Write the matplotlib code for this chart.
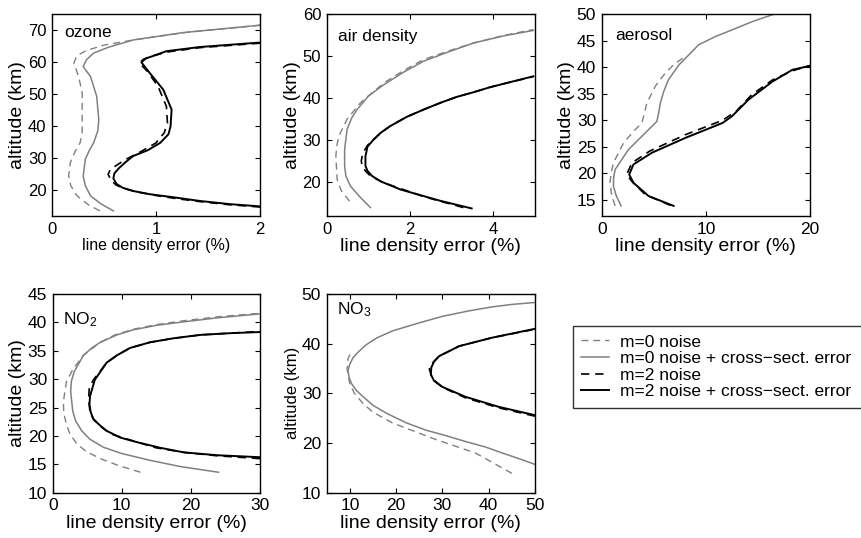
import matplotlib
matplotlib.use("Agg")
import matplotlib.pyplot as plt

plt.rcParams['font.family'] = ['Liberation Sans', 'DejaVu Sans']
plt.rcParams['mathtext.default'] = 'regular'

# ---------------- data (altitude in km, error in %) ----------------
# ozone
oz_m0n_x = [0.46, 0.35, 0.24, 0.18, 0.16, 0.176, 0.22, 0.27, 0.29, 0.29, 0.29, 0.256, 0.21, 0.24, 0.33, 0.50, 0.80, 1.30, 2.0]
oz_m0n_y = [13.6, 15.5, 18.3, 21.5, 24.5, 28.6, 32.0, 34.8, 38.0, 42.0, 50.4, 55.5, 59.7, 62.0, 63.6, 65.3, 67.0, 69.3, 71.5]
oz_m0e_x = [0.59, 0.47, 0.37, 0.32, 0.30, 0.32, 0.36, 0.40, 0.44, 0.45, 0.43, 0.37, 0.30, 0.33, 0.40, 0.54, 0.78, 1.26, 2.0]
oz_m0e_y = [13.6, 15.8, 18.3, 21.5, 24.5, 29.7, 32.5, 34.8, 38.5, 42.0, 49.3, 55.5, 58.6, 60.7, 62.8, 64.6, 66.9, 69.2, 71.5]
oz_m2n_x = [2.0, 1.71, 1.42, 1.2, 1.0, 0.82, 0.70, 0.62, 0.57, 0.54, 0.56, 0.62, 0.70, 0.85, 1.0, 1.08, 1.11, 1.10, 1.02, 0.92, 0.84, 0.88, 0.96, 1.12, 1.42, 2.0]
oz_m2n_y = [14.8, 15.5, 16.5, 17.4, 18.4, 19.5, 20.5, 21.6, 23.0, 25.0, 26.5, 27.8, 29.5, 32.0, 34.8, 38.0, 41.0, 46.2, 52.4, 57.0, 59.7, 60.9, 61.9, 63.2, 64.5, 65.9]
oz_m2e_x = [2.0, 1.71, 1.42, 1.2, 0.94, 0.78, 0.68, 0.62, 0.59, 0.60, 0.64, 0.70, 0.78, 0.92, 1.04, 1.12, 1.14, 1.15, 1.07, 0.94, 0.86, 0.90, 0.98, 1.10, 1.42, 2.0]
oz_m2e_y = [15.0, 15.7, 16.7, 17.7, 18.8, 19.8, 20.8, 22.0, 23.7, 25.3, 26.8, 28.6, 30.7, 32.5, 34.8, 37.5, 40.0, 45.2, 51.4, 56.6, 59.9, 61.1, 62.0, 63.4, 64.7, 66.1]

# air density
ad_m0n_x = [0.55, 0.35, 0.25, 0.22, 0.24, 0.29, 0.49, 0.81, 1.37, 1.85, 2.33, 2.95, 3.52, 4.25, 4.96]
ad_m0n_y = [15.5, 18.0, 20.7, 26.2, 28.5, 31.0, 35.0, 38.9, 43.6, 46.6, 49.2, 51.3, 53.1, 54.9, 56.3]
ad_m0e_x = [1.05, 0.80, 0.57, 0.46, 0.43, 0.43, 0.49, 0.60, 0.73, 1.0, 1.37, 1.85, 2.33, 2.95, 3.52, 4.25, 4.96]
ad_m0e_y = [14.0, 16.5, 19.1, 21.5, 23.9, 27.8, 32.6, 35.3, 37.3, 40.5, 43.2, 46.2, 48.8, 51.1, 53.1, 54.8, 56.1]
ad_m2n_x = [3.28, 2.33, 1.37, 1.05, 0.93, 0.85, 0.83, 0.87, 0.98, 1.13, 1.30, 1.53, 1.93, 2.33, 2.73, 3.12, 3.52, 3.92, 4.4, 4.96]
ad_m2n_y = [14.0, 16.6, 19.9, 21.5, 22.7, 24.0, 25.1, 27.0, 28.8, 30.2, 31.8, 33.4, 35.6, 37.3, 38.9, 40.3, 41.4, 42.6, 43.8, 45.1]
ad_m2e_x = [3.48, 2.73, 1.77, 1.30, 1.09, 0.98, 0.93, 0.93, 0.98, 1.13, 1.30, 1.53, 1.93, 2.33, 2.73, 3.12, 3.52, 3.92, 4.4, 4.96]
ad_m2e_y = [13.8, 15.6, 18.3, 20.2, 21.5, 22.7, 23.9, 26.2, 28.5, 30.2, 31.8, 33.4, 35.6, 37.3, 38.9, 40.3, 41.4, 42.6, 43.8, 45.2]

# aerosol
ae_m0n_x = [1.29, 0.95, 0.80, 0.90, 1.13, 2.1, 3.1, 3.86, 4.34, 5.14, 6.11, 7.07, 8.04]
ae_m0n_y = [13.9, 16.0, 18.25, 20.0, 22.0, 25.75, 28.0, 29.5, 33.25, 36.4, 38.9, 40.75, 42.0]
ae_m0e_x = [1.86, 1.40, 1.13, 1.15, 1.29, 2.57, 4.5, 5.3, 5.47, 5.63, 5.95, 6.4, 7.4, 8.36, 9.3, 10.9, 12.5, 14.5, 16.6]
ae_m0e_y = [13.9, 15.8, 17.6, 19.3, 20.75, 24.5, 28.25, 29.8, 31.4, 33.25, 35.4, 37.6, 40.4, 42.3, 44.2, 45.75, 47.0, 48.6, 50.0]
ae_m2n_x = [6.6, 4.2, 2.9, 2.4, 2.9, 4.6, 8.04, 11.6, 12.9, 14.4, 16.4, 18.3, 20.0]
ae_m2n_y = [14.0, 16.0, 18.5, 19.8, 22.0, 24.2, 27.3, 30.0, 31.7, 34.8, 37.6, 39.3, 40.3]
ae_m2e_x = [6.91, 4.5, 3.05, 2.64, 3.05, 4.82, 8.04, 11.6, 12.5, 14.1, 16.4, 18.3, 20.0]
ae_m2e_y = [13.9, 15.75, 18.25, 19.8, 21.7, 23.9, 26.7, 29.5, 30.75, 33.9, 37.3, 39.5, 40.25]

# NO2
n2_m0n_x = [12.7, 9.5, 6.9, 4.8, 3.5, 2.5, 2.0, 1.6, 1.55, 2.0, 3.0, 4.45, 6.9, 9.0, 11.7, 15.0, 19.0, 24.0, 30.0]
n2_m0n_y = [13.6, 14.8, 16.0, 17.3, 18.6, 20.3, 22.0, 24.0, 26.1, 29.6, 31.9, 34.2, 36.5, 37.8, 38.8, 39.6, 40.3, 41.0, 41.6]
n2_m0e_x = [24.0, 18.5, 14.1, 10.0, 7.35, 5.4, 4.2, 3.3, 2.9, 2.6, 2.7, 3.1, 4.45, 5.66, 6.9, 9.3, 11.7, 15.1, 19.0, 23.8, 30.0]
n2_m0e_y = [13.6, 14.6, 15.7, 16.9, 18.0, 19.4, 20.9, 22.7, 24.4, 27.8, 29.6, 31.3, 34.2, 35.5, 36.5, 37.8, 38.7, 39.5, 40.1, 40.8, 41.5]
n2_m2n_x = [30.0, 23.8, 19.0, 15.0, 11.7, 8.5, 7.1, 5.9, 5.4, 5.2, 5.3, 5.9, 6.8, 7.8, 9.3, 11.2, 14.1, 17.5, 21.4, 25.7, 30.0]
n2_m2n_y = [16.0, 16.5, 17.1, 17.9, 19.1, 20.3, 21.5, 23.0, 24.1, 26.7, 28.5, 29.9, 31.3, 32.9, 34.2, 35.5, 36.5, 37.2, 37.8, 38.1, 38.4]
n2_m2e_x = [30.0, 23.8, 19.0, 15.6, 12.2, 9.8, 7.8, 6.9, 5.9, 5.5, 5.32, 5.4, 6.1, 6.9, 7.8, 9.3, 11.2, 14.1, 17.5, 21.4, 25.7, 30.0]
n2_m2e_y = [16.25, 16.6, 17.1, 17.9, 18.9, 19.7, 20.9, 21.8, 22.9, 24.2, 25.5, 27.0, 29.9, 31.3, 32.9, 34.2, 35.5, 36.5, 37.2, 37.8, 38.1, 38.3]

# NO3
n3_m0n_x = [45.0, 37.1, 28.6, 19.3, 15.0, 12.9, 11.0, 10.0, 9.4, 9.6, 10.4]
n3_m0n_y = [13.9, 18.0, 20.7, 24.0, 26.2, 27.9, 30.0, 31.9, 34.9, 37.0, 38.5]
n3_m0e_x = [50.0, 46.4, 42.9, 39.3, 35.0, 30.7, 26.4, 22.1, 17.9, 15.0, 12.9, 11.4, 10.4, 9.86, 9.6, 10.0, 10.7, 11.8, 13.4, 15.9, 19.3, 25.0, 30.0, 35.7, 40.7, 45.0, 50.0]
n3_m0e_y = [15.7, 16.9, 18.0, 19.2, 20.3, 21.5, 22.6, 24.1, 26.0, 27.6, 29.3, 30.6, 31.9, 33.1, 34.6, 35.9, 37.2, 38.3, 39.7, 41.2, 42.6, 44.2, 45.5, 46.6, 47.4, 47.9, 48.3]
n3_m2n_x = [50.0, 42.1, 35.0, 30.0, 27.8, 27.2, 27.3, 29.3, 33.6, 40.7, 50.0]
n3_m2n_y = [25.4, 27.1, 29.1, 31.2, 33.0, 34.8, 35.6, 37.5, 39.5, 41.2, 42.9]
n3_m2e_x = [50.0, 42.1, 35.0, 30.0, 28.2, 27.5, 27.6, 28.2, 29.3, 33.6, 40.7, 50.0]
n3_m2e_y = [25.6, 27.3, 29.3, 31.3, 32.5, 33.8, 35.2, 36.4, 37.5, 39.5, 41.2, 43.0]

legend_labels = ['m=0 noise', 'm=0 noise + cross\u2212sect. error',
                 'm=2 noise', 'm=2 noise + cross\u2212sect. error']

panels = [
    dict(name='ozone', series=[(oz_m0n_x, oz_m0n_y), (oz_m0e_x, oz_m0e_y), (oz_m2n_x, oz_m2n_y), (oz_m2e_x, oz_m2e_y)],
         xlim=(0, 2), ylim=(12, 75), xticks=[0, 1, 2], yticks=[20, 30, 40, 50, 60, 70],
         rect=(52, 14, 260, 216), xlfs=11.5, ylfs=14, tfs=12, txt=(0.06, 0.91)),
    dict(name='air density', series=[(ad_m0n_x, ad_m0n_y), (ad_m0e_x, ad_m0e_y), (ad_m2n_x, ad_m2n_y), (ad_m2e_x, ad_m2e_y)],
         xlim=(0, 5), ylim=(12, 60), xticks=[0, 2, 4], yticks=[20, 30, 40, 50, 60],
         rect=(326.7, 14, 535, 216), xlfs=14, ylfs=14, tfs=12, txt=(0.056, 0.888)),
    dict(name='aerosol', series=[(ae_m0n_x, ae_m0n_y), (ae_m0e_x, ae_m0e_y), (ae_m2n_x, ae_m2n_y), (ae_m2e_x, ae_m2e_y)],
         xlim=(0, 20), ylim=(12, 50), xticks=[0, 10, 20], yticks=[15, 20, 25, 30, 35, 40, 45, 50],
         rect=(601.7, 14, 810, 216), xlfs=14, ylfs=14, tfs=12.5, txt=(0.064, 0.896)),
    dict(name='NO$_2$', series=[(n2_m0n_x, n2_m0n_y), (n2_m0e_x, n2_m0e_y), (n2_m2n_x, n2_m2n_y), (n2_m2e_x, n2_m2e_y)],
         xlim=(0, 30), ylim=(10, 45), xticks=[0, 10, 20, 30], yticks=[10, 15, 20, 25, 30, 35, 40, 45],
         rect=(52.7, 294, 260, 492.7), xlfs=14, ylfs=14, tfs=12.5, txt=(0.051, 0.87)),
    dict(name='NO$_3$', series=[(n3_m0n_x, n3_m0n_y), (n3_m0e_x, n3_m0e_y), (n3_m2n_x, n3_m2n_y), (n3_m2e_x, n3_m2e_y)],
         xlim=(5, 50), ylim=(10, 50), xticks=[10, 20, 30, 40, 50], yticks=[10, 20, 30, 40, 50],
         rect=(326.7, 294, 535, 492.7), xlfs=14, ylfs=12, tfs=12.5, txt=(0.051, 0.92)),
]

styles = [
    dict(color='#808080', lw=1.0, dashes=(5, 3.5)),
    dict(color='#808080', lw=1.1, ls='-'),
    dict(color='black', lw=1.2, dashes=(5, 3.5)),
    dict(color='black', lw=1.4, ls='-'),
]

W, H = 861, 538
fig = plt.figure(figsize=(W / 100, H / 100), dpi=100)

handles = None
for p in panels:
    l, t, r, b = p['rect']
    ax = fig.add_axes([l / W, 1 - b / H, (r - l) / W, (b - t) / H])
    hs = []
    for (xs, ys), st in zip(p['series'], styles):
        kw = dict(st)
        if 'dashes' in kw:
            d = kw.pop('dashes')
            h, = ax.plot(xs, ys, dashes=d, **kw)
        else:
            h, = ax.plot(xs, ys, **kw)
        hs.append(h)
    handles = hs
    ax.set_xlim(*p['xlim'])
    ax.set_ylim(*p['ylim'])
    ax.set_xticks(p['xticks'])
    ax.set_yticks(p['yticks'])
    ax.tick_params(direction='in', top=True, right=True, length=3.5, width=0.8,
                   labelsize=p['tfs'], pad=4)
    for s in ax.spines.values():
        s.set_linewidth(1.0)
    ax.set_xlabel('line density error (%)', fontsize=p['xlfs'], labelpad=1)
    ax.set_ylabel('altitude (km)', fontsize=p['ylfs'], labelpad=1)
    ax.text(p['txt'][0], p['txt'][1], p['name'], transform=ax.transAxes,
            fontsize=12.5, ha='left', va='center')

# legend box runs past the right edge of the figure, as in the reference
leg_w = (880 - 572.7) / W
leg_h = (411 - 325.7) / H
leg = fig.legend(handles, legend_labels, loc='upper left', mode='expand',
                 bbox_to_anchor=(572.7 / W, 1 - 411 / H, leg_w, leg_h), bbox_transform=fig.transFigure,
                 fontsize=12.5, frameon=True, fancybox=False, shadow=False,
                 borderaxespad=0, borderpad=0.5, labelspacing=0.08,
                 handlelength=1.6, handletextpad=0.6)
leg.get_frame().set_edgecolor('black')
leg.get_frame().set_linewidth(1.0)

fig.savefig('out.png', dpi=100)
